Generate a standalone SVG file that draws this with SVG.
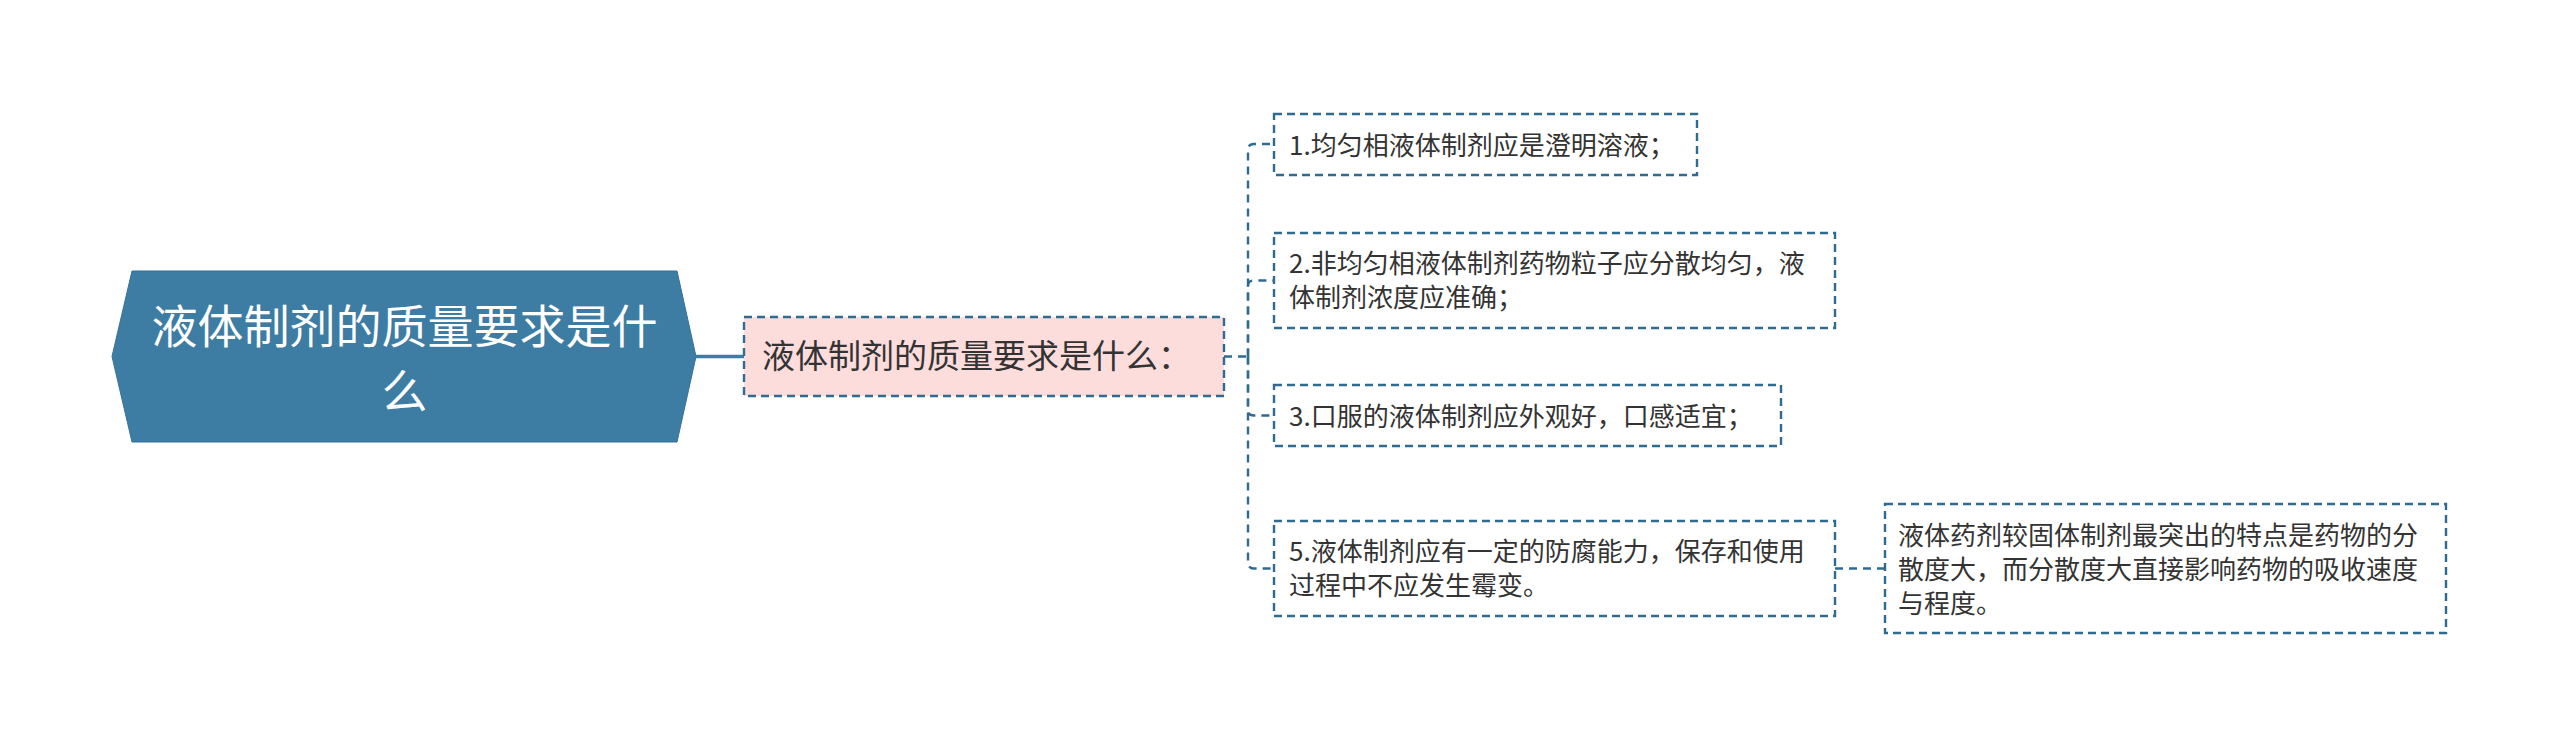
<svg xmlns="http://www.w3.org/2000/svg" width="2560" height="748" viewBox="0 0 2560 748">
<style>
.t{font-family:"Noto Sans CJK SC","Noto Sans",sans-serif;fill:#333333}
.t26{font-size:26px}
.box{fill:#ffffff;stroke:#2f6b90;stroke-width:2.4;stroke-dasharray:8 5}
.lv1{fill:#fddcdc;stroke:#2f6b90;stroke-width:2.4;stroke-dasharray:8 5}
.dc{fill:none;stroke:#2f6b90;stroke-width:2.4;stroke-dasharray:8 6}
</style>
<rect width="2560" height="748" fill="#ffffff"/>
<g id="connectors">
<path d="M696 356.5 H744" fill="none" stroke="#3d7ca3" stroke-width="3.5"/>
<path class="dc" d="M1224 356.5 H1248"/>
<path class="dc" d="M1248 356.5 V150 Q1248 144 1254 144 H1274"/>
<path class="dc" d="M1248 356.5 V286 Q1248 280.5 1254 280.5 H1274"/>
<path class="dc" d="M1248 356.5 V410 Q1248 415.5 1254 415.5 H1274"/>
<path class="dc" d="M1248 356.5 V562 Q1248 568.5 1254 568.5 H1274"/>
<path class="dc" d="M1835 568.5 H1885"/>
</g>
<g id="root">
<polygon points="112,356.5 132,271 677,271 696,356.5 677,442 132,442" fill="#3d7ca3" stroke="#35719a" stroke-width="1"/>
<text class="t" x="404.5" text-anchor="middle" style="font-size:46px;fill:#ffffff"><tspan x="404.5" y="343">液体制剂的质量要求是什</tspan><tspan x="404.5" y="408">么</tspan></text>
</g>
<g id="level1">
<rect class="lv1" x="744" y="317" width="480" height="79"/>
<text class="t" x="762" y="368" style="font-size:33px">液体制剂的质量要求是什么：</text>
</g>
<g id="child1">
<rect class="box" x="1274" y="114" width="423" height="61"/>
<text class="t t26" x="1289" y="155">1.均匀相液体制剂应是澄明溶液；</text>
</g>
<g id="child2">
<rect class="box" x="1274" y="233" width="561" height="95"/>
<text class="t t26"><tspan x="1289" y="273">2.非均匀相液体制剂药物粒子应分散均匀，液</tspan><tspan x="1289" y="307">体制剂浓度应准确；</tspan></text>
</g>
<g id="child3">
<rect class="box" x="1274" y="385" width="507" height="61"/>
<text class="t t26" x="1289" y="426">3.口服的液体制剂应外观好，口感适宜；</text>
</g>
<g id="child4">
<rect class="box" x="1274" y="521" width="561" height="95"/>
<text class="t t26"><tspan x="1289" y="561">5.液体制剂应有一定的防腐能力，保存和使用</tspan><tspan x="1289" y="595">过程中不应发生霉变。</tspan></text>
</g>
<g id="child5">
<rect class="box" x="1885" y="504" width="561" height="129"/>
<text class="t t26"><tspan x="1898" y="545">液体药剂较固体制剂最突出的特点是药物的分</tspan><tspan x="1898" y="579">散度大，而分散度大直接影响药物的吸收速度</tspan><tspan x="1898" y="613">与程度。</tspan></text>
</g>
</svg>
